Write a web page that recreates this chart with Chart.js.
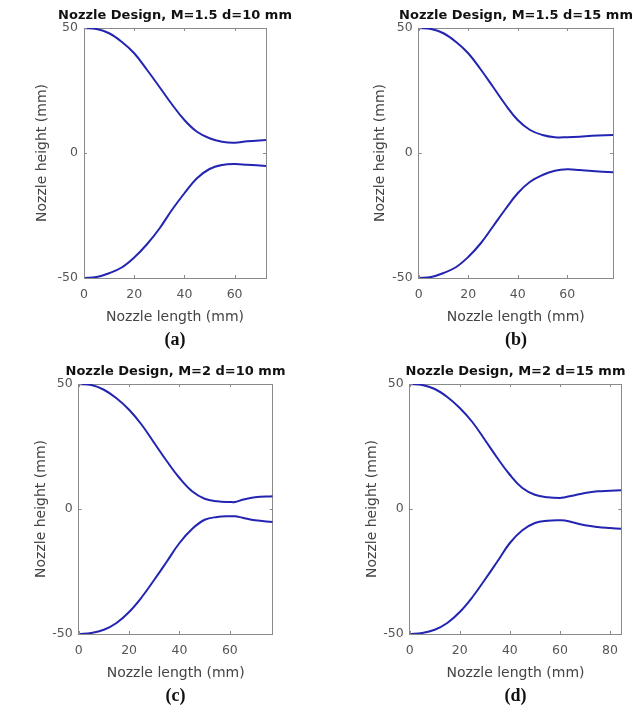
<!DOCTYPE html>
<html>
<head>
<meta charset="utf-8">
<script src="https://cdn.jsdelivr.net/npm/chart.js@4.4.0/dist/chart.umd.min.js"></script>
<style>
  html, body { margin: 0; padding: 0; background: #fff; overflow: hidden; }
  #page { position: relative; width: 633px; height: 713px; overflow: hidden; }
  canvas { position: absolute; }
</style>
</head>
<body>
<div id="page">
  <canvas id="chartA" width="350" height="356" style="left:0px;top:0px"></canvas>
  <canvas id="chartB" width="400" height="356" style="left:316px;top:0px"></canvas>
  <canvas id="chartC" width="351" height="357" style="left:0px;top:356px"></canvas>
  <canvas id="chartD" width="399" height="357" style="left:316px;top:356px"></canvas>
</div>
<script>
// (a) M=1.5, d=10 mm
const xA = [0, 5, 10, 15, 20, 25, 30, 35, 40, 45, 50, 55, 60, 65, 72.5];
const topA = [50, 49.6, 47.9, 44.5, 39.9, 33.4, 26.5, 19.5, 13.2, 8.5, 5.9, 4.5, 4.1, 4.7, 5.2];
const botA = [-50, -49.6, -48.1, -45.8, -41.8, -36.6, -30.3, -22.8, -16.1, -10.1, -6.4, -4.8, -4.4, -4.7, -5.2];

// (b) M=1.5, d=15 mm
const xB = [0, 5, 10, 15, 20, 25, 30, 35, 40, 45, 50, 55, 60, 65, 70, 78.5];
const topB = [50, 49.6, 47.9, 44.5, 39.9, 33.5, 26.5, 19.4, 13.2, 9.2, 7.2, 6.3, 6.3, 6.5, 6.9, 7.2];
const botB = [-50, -49.6, -48, -45.7, -41.6, -36.2, -29.4, -22.5, -16.1, -11.5, -8.8, -7.1, -6.5, -6.8, -7.2, -7.7];

// (c) M=2, d=10 mm
const xC = [0, 5, 10, 15, 20, 25, 30, 35, 40, 45, 50, 55, 60, 62, 65, 70, 77];
const topC = [50, 49.6, 47.7, 44.3, 39.7, 33.7, 26.4, 19.1, 12.4, 7.1, 4.1, 3.1, 2.8, 2.8, 3.7, 4.7, 5.1];
const botC = [-50, -49.6, -48.3, -45.6, -41.2, -35.3, -28.3, -21, -13.6, -8, -4.3, -3.2, -2.9, -2.9, -3.5, -4.5, -5.2];

// (d) M=2, d=15 mm
const xD = [0, 5, 10, 15, 20, 25, 30, 35, 40, 45, 50, 55, 60, 62, 65, 70, 75, 80, 84.5];
const topD = [50, 49.6, 48, 44.8, 40.4, 34.8, 27.7, 20.4, 13.7, 8.4, 5.7, 4.7, 4.4, 4.7, 5.3, 6.4, 7.1, 7.3, 7.5];
const botD = [-50, -49.6, -48.3, -45.6, -41.2, -35.3, -28.3, -21, -13.6, -8.5, -5.6, -4.7, -4.5, -4.6, -5.3, -6.5, -7.2, -7.6, -7.9];

const yTicks = [-50, 0, 50];
const lineColor = '#2424b2';
const boxColor = '#8a8a8a';

// MATLAB style small ticks pointing into the plot box
const innerTicks = {
  id: 'innerTicks',
  afterDraw(chart) {
    const { ctx, chartArea: a, scales: { x, y } } = chart;
    ctx.save();
    ctx.strokeStyle = boxColor;
    ctx.lineWidth = 1;
    ctx.beginPath();
    x.ticks.forEach(t => {
      const px = Math.round(x.getPixelForValue(t.value)) + 0.5;
      ctx.moveTo(px, a.bottom); ctx.lineTo(px, a.bottom - 3);
      ctx.moveTo(px, a.top); ctx.lineTo(px, a.top + 3);
    });
    y.ticks.forEach(t => {
      const py = Math.round(y.getPixelForValue(t.value)) + 0.5;
      ctx.moveTo(a.left, py); ctx.lineTo(a.left + 3, py);
      ctx.moveTo(a.right, py); ctx.lineTo(a.right - 3, py);
    });
    ctx.stroke();
    ctx.restore();
  }
};

function pts(xs, ys) {
  return xs.map((x, i) => ({ x: x, y: ys[i] }));
}

// yWidth / rWidth: space left and right of the plot box, so the
// canvas (and the title over it) is centred on the plot box
function makeChart(id, p) {
  const ds = (ys) => ({
    data: pts(p.xs, ys),
    showLine: true,
    borderColor: lineColor,
    borderWidth: 2,
    pointRadius: 0,
    fill: false,
    tension: 0.4
  });
  return new Chart(document.getElementById(id), {
    type: 'scatter',
    data: { datasets: [ds(p.top), ds(p.bot)] },
    plugins: [innerTicks],
    options: {
      responsive: false,
      animation: false,
      devicePixelRatio: 1,
      layout: { padding: { top: 8.2, left: 0, right: 0, bottom: p.padBottom } },
      plugins: {
        legend: { display: false },
        tooltip: { enabled: false },
        title: {
          display: true,
          text: p.title,
          color: '#111',
          font: { family: 'DejaVu Sans', size: 13, weight: 'bold' },
          padding: { top: 0, bottom: 4.2 }
        },
        subtitle: {
          display: true,
          position: 'bottom',
          text: p.label,
          color: '#111',
          font: { family: 'Liberation Serif', size: 18, weight: 'bold' },
          padding: 0
        }
      },
      scales: {
        x: {
          type: 'linear',
          position: 'bottom',
          min: 0,
          max: p.xMax,
          afterFit: (s) => { s.height = 52; },
          grid: { display: false, drawTicks: false },
          border: { display: true, color: boxColor, width: 1 },
          ticks: {
            stepSize: 20,
            includeBounds: false,
            padding: 9,
            color: '#555',
            font: { family: 'DejaVu Sans', size: 12.5 }
          },
          title: {
            display: true,
            text: 'Nozzle length (mm)',
            color: '#444',
            font: { family: 'DejaVu Sans', size: 14 },
            padding: { top: 0, bottom: 4 }
          }
        },
        y: {
          type: 'linear',
          position: 'left',
          min: -50,
          max: 50,
          afterFit: (s) => { s.width = p.yWidth; },
          afterBuildTicks: (s) => { s.ticks = yTicks.map(v => ({ value: v })); },
          grid: { display: false, drawTicks: false },
          border: { display: true, color: boxColor, width: 1 },
          ticks: {
            padding: 6,
            color: '#555',
            font: { family: 'DejaVu Sans', size: 12.5 }
          },
          title: {
            display: true,
            text: 'Nozzle height (mm)',
            color: '#444',
            font: { family: 'DejaVu Sans', size: 14 },
            padding: { top: p.yTitlePad, bottom: 0 }
          }
        },
        x2: {
          type: 'linear',
          position: 'top',
          grid: { display: false, drawTicks: false },
          border: { display: true, color: boxColor, width: 1 },
          ticks: { display: false }
        },
        y2: {
          type: 'linear',
          position: 'right',
          afterFit: (s) => { s.width = p.rWidth; },
          grid: { display: false, drawTicks: false },
          border: { display: true, color: boxColor, width: 1 },
          ticks: { display: false }
        }
      }
    }
  });
}

makeChart('chartA', {
  xs: xA, top: topA, bot: botA, xMax: 72.5,
  title: 'Nozzle Design, M=1.5 d=10 mm', label: '(a)',
  yWidth: 84, rWidth: 84, yTitlePad: 34, padBottom: 4.4
});
makeChart('chartB', {
  xs: xB, top: topB, bot: botB, xMax: 78.5,
  title: 'Nozzle Design, M=1.5 d=15 mm', label: '(b)',
  yWidth: 102.7, rWidth: 103, yTitlePad: 56, padBottom: 4.4
});
makeChart('chartC', {
  xs: xC, top: topC, bot: botC, xMax: 77,
  title: 'Nozzle Design, M=2 d=10 mm', label: '(c)',
  yWidth: 78.7, rWidth: 78.3, yTitlePad: 33, padBottom: 5.4
});
makeChart('chartD', {
  xs: xD, top: topD, bot: botD, xMax: 84.5,
  title: 'Nozzle Design, M=2 d=15 mm', label: '(d)',
  yWidth: 93.7, rWidth: 93.7, yTitlePad: 48, padBottom: 5.4
});
</script>
</body>
</html>
